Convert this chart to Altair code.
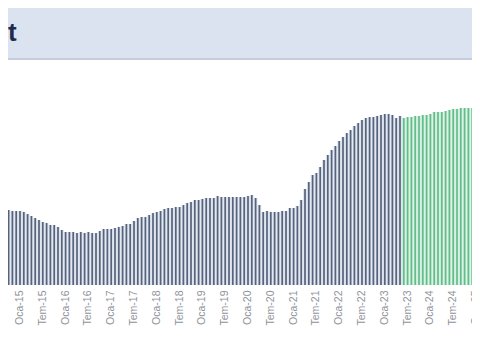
import altair as alt
import pandas as pd

# Turkish month abbreviations
MONTHS_TR = ["Oca", "Şub", "Mar", "Nis", "May", "Haz",
             "Tem", "Ağu", "Eyl", "Eki", "Kas", "Ara"]
START_YEAR = 2014
START_MONTH = 8  # Ağu-14

# realised values (Ağu-14 .. May-23)
actual = [73, 74, 75, 74, 74, 74, 73, 71, 69, 67,
          65, 63, 62, 60, 60, 58, 55, 53, 53, 53,
          52, 53, 52, 53, 52, 52, 54, 56, 56, 56,
          57, 58, 59, 61, 61, 64, 67, 68, 68, 70,
          72, 73, 74, 76, 77, 77, 78, 78, 80, 82,
          83, 85, 85, 86, 87, 87, 87, 89, 88, 88,
          88, 88, 88, 88, 88, 89, 90, 87, 80, 73,
          74, 73, 73, 73, 74, 74, 77, 77, 79, 85,
          96, 103, 110, 112, 118, 125, 130, 135, 139, 144,
          148, 152, 155, 159, 162, 165, 167, 168, 168, 169,
          170, 171, 171, 170, 167, 169]

# projected values (Haz-23 .. Şub-25)
forecast = [167, 168, 168, 169, 169, 170, 170, 171, 173, 173,
            173, 174, 175, 176, 176, 177, 177, 177, 177, 178, 178]

labels = []
yr, mo = START_YEAR, START_MONTH
for _ in range(len(actual) + len(forecast)):
    labels.append(f"{MONTHS_TR[mo - 1]}-{yr % 100:02d}")
    mo += 1
    if mo > 12:
        mo = 1
        yr += 1

series = ["Gerçekleşen"] * len(actual) + ["Tahmin"] * len(forecast)
df = pd.DataFrame({"ay": labels, "deger": actual + forecast, "seri": series})

axis_values = [l for l in labels if l.startswith("Oca") or l.startswith("Tem")]

W, H = 464, 277
STEP = 3.8
START = -8.9

x_enc = alt.X(
    "ay:N",
    sort=labels,
    scale=alt.Scale(range=[START, START + len(labels) * STEP], paddingInner=0, paddingOuter=0),
    axis=alt.Axis(
        values=axis_values, title=None, domain=False, ticks=False, grid=False,
        labelAngle=270, labelFont="Liberation Sans", labelFontSize=10.5,
        labelColor="#8f939a", labelPadding=5, labelOverlap=False,
    ),
)
y_enc = alt.Y("deger:Q", scale=alt.Scale(domain=[0, H], nice=False, zero=True), axis=None)

base = alt.Chart(df)
pale = base.mark_bar(clip=True).encode(
    x=x_enc, y=y_enc,
    color=alt.Color("seri:N", scale=alt.Scale(domain=["Gerçekleşen", "Tahmin"],
                                              range=["#dde3ed", "#d3efdf"]), legend=None),
)
dark = base.mark_bar(size=1.7, clip=True).encode(
    x=x_enc, y=y_enc,
    color=alt.Color("seri:N", scale=alt.Scale(domain=["Gerçekleşen", "Tahmin"],
                                              range=["#56637d", "#62bd8a"]), legend=None),
)

one = pd.DataFrame({"k": [0]})
header = alt.Chart(one).mark_rect(color="#dbe3f0").encode(
    x=alt.value(0), x2=alt.value(W), y=alt.value(0), y2=alt.value(50)
)
border = alt.Chart(one).mark_rule(color="#c4ccdd", strokeWidth=2).encode(
    x=alt.value(0), x2=alt.value(W), y=alt.value(51)
)
title_t = alt.Chart(one).mark_text(
    text="t", align="left", baseline="alphabetic", fontSize=26, fontWeight="bold",
    color="#1e2b4f", font="Liberation Sans"
).encode(x=alt.value(0), y=alt.value(33))

chart = alt.layer(header, border, title_t, pale, dark).resolve_scale(
    color="independent"
).properties(
    width=W, height=H,
    autosize=alt.AutoSizeParams(type="none"),
    padding={"left": 0, "top": 0, "right": 0, "bottom": 60},
    background="white",
).configure_view(stroke=None)

chart.save("out.html", embed_options={"renderer": "svg", "actions": False})
